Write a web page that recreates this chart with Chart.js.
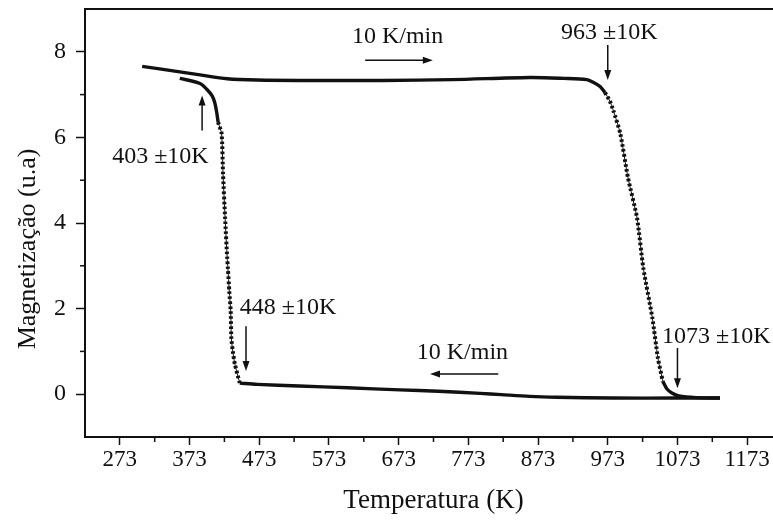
<!DOCTYPE html>
<html>
<head>
<meta charset="utf-8">
<script src="https://cdn.jsdelivr.net/npm/chart.js@4"></script>
<style>
  html, body { margin: 0; padding: 0; background: #fff; overflow: hidden; }
  #wrap { width: 790px; height: 520px; position: relative; }
</style>
</head>
<body>
<div id="wrap"><canvas id="magChart"></canvas></div>
<script>
// heating run, flat part before the Curie drop
var heatTopT = [305, 330, 359, 388, 427, 470, 550, 650, 750, 861, 910, 943, 952, 962, 969];
var heatTopM = [7.66, 7.60, 7.53, 7.46, 7.37, 7.34, 7.33, 7.33, 7.35, 7.40, 7.38, 7.35, 7.29, 7.19, 7.05];
// heating run, steep drop (dotted)
var heatDropT = [969, 976, 981, 991, 1002, 1015, 1024, 1037, 1045, 1052];
var heatDropM = [7.05, 6.85, 6.63, 6.09, 5.06, 4.12, 2.95, 1.78, 0.84, 0.30];
// heating run, tail after the drop
var heatTailT = [1052, 1058, 1065, 1075, 1100, 1134];
var heatTailM = [0.30, 0.12, 0.03, -0.04, -0.08, -0.09];
// cooling run, flat part from the top temperature down
var coolLowT = [1134, 1070, 981, 900, 861, 820, 790, 730, 675, 600, 530, 470, 445];
var coolLowM = [-0.09, -0.09, -0.09, -0.07, -0.05, -0.01, 0.02, 0.07, 0.10, 0.15, 0.19, 0.23, 0.26];
// cooling run, steep rise (dotted)
var coolRiseT = [445, 438, 435, 433, 432, 430, 428, 427, 424, 421, 419, 414];
var coolRiseM = [0.26, 0.70, 1.01, 1.29, 1.95, 2.41, 2.95, 3.19, 4.12, 5.16, 6.09, 6.35];
// cooling run, end near room temperature
var coolTopT = [414, 412, 409, 405, 398, 388, 359];
var coolTopM = [6.35, 6.58, 6.82, 6.98, 7.12, 7.26, 7.38];

var xTicks = [273, 373, 473, 573, 673, 773, 873, 973, 1073, 1173];
var xMinor = [323, 423, 523, 623, 723, 823, 923, 1023, 1123];
var yTicks = [0, 2, 4, 6, 8];
var yMinor = [1, 3, 5, 7];

// text notes: label, x, y (data units)
var noteText = ['10 K/min', '963 \u00b110K', '403 \u00b110K', '448 \u00b110K', '10 K/min', '1073 \u00b110K'];
var noteT = [606, 906, 262, 445, 699, 1051];
var noteM = [8.2, 8.29, 5.4, 1.88, 0.82, 1.2];
// arrows: start -> end (data units)
var arrowT0 = [625, 973, 391, 454, 816, 1073];
var arrowM0 = [7.8, 8.16, 6.16, 1.59, 0.47, 1.08];
var arrowT1 = [722, 973, 391, 454, 718, 1073];
var arrowM1 = [7.8, 7.34, 6.98, 0.54, 0.47, 0.14];

var INK = '#111';
var SERIF = "'Liberation Serif', 'Times New Roman', serif";

function pts(xs, ys) {
  return xs.map(function (x, i) { return { x: x, y: ys[i] }; });
}

function solid(xs, ys) {
  return { data: pts(xs, ys), borderColor: INK, borderWidth: 3.4, pointRadius: 0, tension: 0.3, fill: false };
}
function dotted(xs, ys) {
  return { data: pts(xs, ys), borderColor: INK, borderWidth: 4, borderDash: [2.6, 2.4], pointRadius: 0, tension: 0.2, fill: false };
}
function thin(xs, ys) {
  return { data: pts(xs, ys), borderColor: INK, borderWidth: 1, pointRadius: 0, tension: 0.2, fill: false };
}

var extras = {
  id: 'extras',
  afterDraw: function (chart) {
    var ctx = chart.ctx, a = chart.chartArea;
    var sx = chart.scales.x, sy = chart.scales.y;
    ctx.save();
    ctx.strokeStyle = INK;
    ctx.fillStyle = INK;

    // frame top
    ctx.lineWidth = 2;
    ctx.beginPath();
    ctx.moveTo(a.left - 1, a.top);
    ctx.lineTo(a.right + 20, a.top);
    ctx.stroke();

    // minor ticks
    ctx.lineWidth = 1.5;
    xMinor.forEach(function (v) {
      var px = sx.getPixelForValue(v);
      ctx.beginPath();
      ctx.moveTo(px, a.bottom);
      ctx.lineTo(px, a.bottom + 5);
      ctx.stroke();
    });
    yMinor.forEach(function (v) {
      var py = sy.getPixelForValue(v);
      ctx.beginPath();
      ctx.moveTo(a.left, py);
      ctx.lineTo(a.left - 5, py);
      ctx.stroke();
    });

    // y axis title
    ctx.save();
    ctx.translate(28, 249);
    ctx.rotate(-Math.PI / 2);
    ctx.font = '26px ' + SERIF;
    ctx.textAlign = 'center';
    ctx.textBaseline = 'middle';
    ctx.fillText('Magnetização (u.a)', 0, 0);
    ctx.restore();

    // notes
    ctx.font = '24px ' + SERIF;
    ctx.textAlign = 'left';
    ctx.textBaseline = 'alphabetic';
    noteText.forEach(function (t, i) {
      ctx.fillText(t, sx.getPixelForValue(noteT[i]), sy.getPixelForValue(noteM[i]));
    });

    // arrows
    arrowT0.forEach(function (t0, i) {
      var x0 = sx.getPixelForValue(t0), y0 = sy.getPixelForValue(arrowM0[i]);
      var x1 = sx.getPixelForValue(arrowT1[i]), y1 = sy.getPixelForValue(arrowM1[i]);
      var ang = Math.atan2(y1 - y0, x1 - x0);
      var head = 10, half = 3.5;
      ctx.lineWidth = 1.5;
      ctx.beginPath();
      ctx.moveTo(x0, y0);
      ctx.lineTo(x1 - Math.cos(ang) * head * 0.6, y1 - Math.sin(ang) * head * 0.6);
      ctx.stroke();
      ctx.beginPath();
      ctx.moveTo(x1, y1);
      ctx.lineTo(x1 - Math.cos(ang) * head - Math.sin(ang) * half, y1 - Math.sin(ang) * head + Math.cos(ang) * half);
      ctx.lineTo(x1 - Math.cos(ang) * head + Math.sin(ang) * half, y1 - Math.sin(ang) * head - Math.cos(ang) * half);
      ctx.closePath();
      ctx.fill();
    });
    ctx.restore();
  }
};

new Chart(document.getElementById('magChart'), {
  type: 'line',
  data: {
    datasets: [
      solid(heatTopT, heatTopM),
      thin(heatDropT, heatDropM),
      dotted(heatDropT, heatDropM),
      solid(heatTailT, heatTailM),
      solid(coolLowT, coolLowM),
      thin(coolRiseT, coolRiseM),
      dotted(coolRiseT, coolRiseM),
      solid(coolTopT, coolTopM)
    ]
  },
  options: {
    responsive: true,
    maintainAspectRatio: false,
    animation: false,
    layout: { padding: { top: 9, right: 8, left: 0, bottom: 0 } },
    plugins: { legend: { display: false }, tooltip: { enabled: false } },
    scales: {
      x: {
        type: 'linear',
        min: 223,
        max: 1223,
        afterBuildTicks: function (s) { s.ticks = xTicks.map(function (v) { return { value: v }; }); },
        afterFit: function (s) { s.height = 83; s.paddingLeft = 0; s.paddingRight = 0; },
        ticks: {
          color: INK, font: { family: SERIF, size: 23 }, padding: 1, maxRotation: 0, autoSkip: false,
          callback: function (v) { return String(v); }
        },
        grid: { drawOnChartArea: false, drawTicks: true, tickLength: 8, tickColor: INK, tickWidth: 1.5 },
        border: { color: INK, width: 2 },
        title: { display: true, text: 'Temperatura (K)', color: INK, font: { family: SERIF, size: 27 }, padding: { top: 0, bottom: 3 } }
      },
      y: {
        min: -1,
        max: 9,
        afterBuildTicks: function (s) { s.ticks = yTicks.map(function (v) { return { value: v }; }); },
        afterFit: function (s) { s.width = 85; s.paddingTop = 0; s.paddingBottom = 0; },
        ticks: { color: INK, font: { family: SERIF, size: 24 }, padding: 10 },
        grid: { drawOnChartArea: false, drawTicks: true, tickLength: 9, tickColor: INK, tickWidth: 1.5 },
        border: { color: INK, width: 2 }
      }
    }
  },
  plugins: [extras]
});
</script>
</body>
</html>
